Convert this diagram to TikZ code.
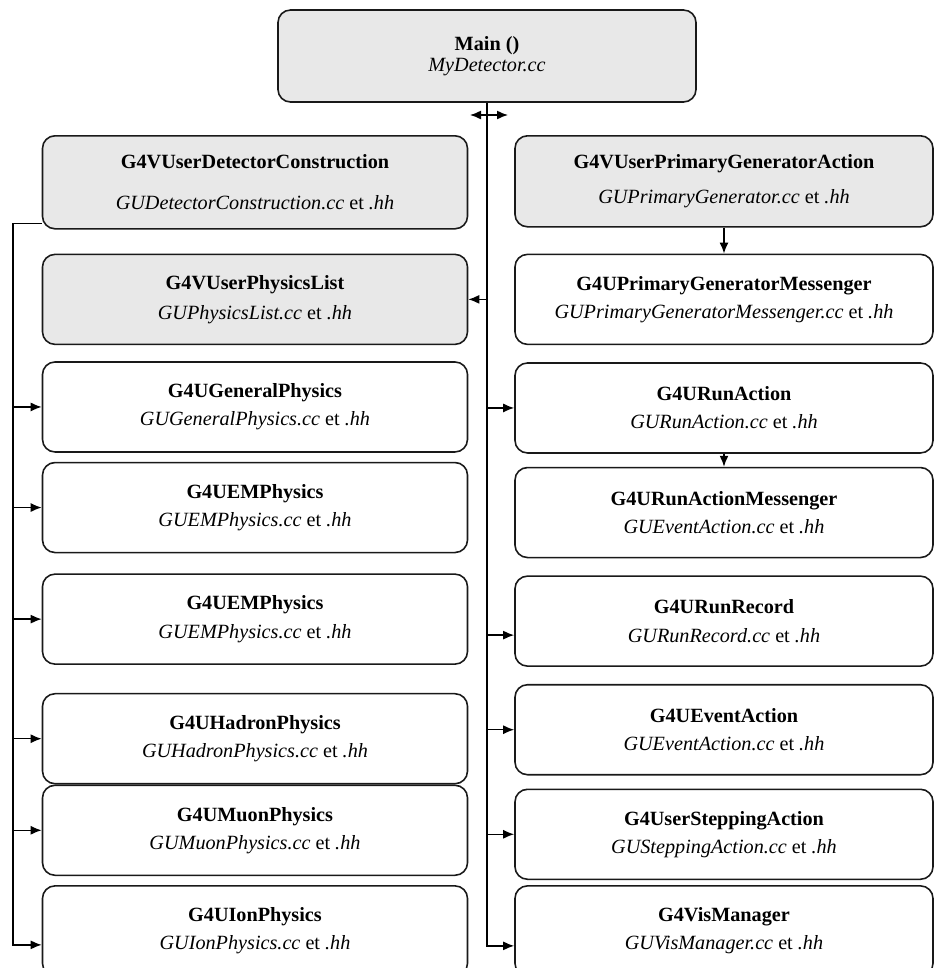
\documentclass[tikz,border=0pt]{standalone}
\usepackage{fontspec}
\setmainfont{Liberation Serif}
\usepackage{tikz}
\usetikzlibrary{positioning,arrows.meta}
\definecolor{boxgray}{RGB}{232,232,232}
\definecolor{boxrule}{RGB}{25,25,25}
\tikzset{
  classbox/.style={rectangle,rounded corners=0.25cm,draw=boxrule,line width=0.9pt,align=center,minimum width=8.5cm,minimum height=1.8cm,fill=white,font=\fontsize{11.5}{16}\selectfont},
  basebox/.style={classbox,fill=boxgray},
  rightbox/.style={classbox,minimum width=8.36cm},
  edge/.style={-{Latex[length=2.2mm,width=1.8mm]},line width=0.8pt},
  twoway/.style={{Latex[length=2.2mm,width=1.8mm]}-{Latex[length=2.2mm,width=1.8mm]},line width=0.8pt}
}

\begin{document}
\begin{tikzpicture}
  \useasboundingbox (0,0) rectangle (18.7,-19.36);
  \node[basebox,minimum width=8.36cm,minimum height=1.84cm] (main) at (9.74,-1.12) {\textbf{Main ()}\\[-4pt]\textit{MyDetector.cc}};

  % left column
  \node[basebox,minimum height=1.86cm,anchor=north] (det) at (5.1,-2.7) {\textbf{G4VUserDetectorConstruction}\\[7pt]\textit{GUDetectorConstruction.cc} et \textit{.hh}};
  \node[basebox,below=0.48cm of det] (physlist) {\textbf{G4VUserPhysicsList}\\[1pt]\textit{GUPhysicsList.cc} et \textit{.hh}};
  \node[classbox,below=0.32cm of physlist] (gen) {\textbf{G4UGeneralPhysics}\\\textit{GUGeneralPhysics.cc} et \textit{.hh}};
  \node[classbox,below=0.18cm of gen] (em1) {\textbf{G4UEMPhysics}\\\textit{GUEMPhysics.cc} et \textit{.hh}};
  \node[classbox,below=0.4cm of em1] (em2) {\textbf{G4UEMPhysics}\\\textit{GUEMPhysics.cc} et \textit{.hh}};
  \node[classbox,below=0.56cm of em2] (hadron) {\textbf{G4UHadronPhysics}\\\textit{GUHadronPhysics.cc} et \textit{.hh}};
  \node[classbox,below=0cm of hadron] (muon) {\textbf{G4UMuonPhysics}\\\textit{GUMuonPhysics.cc} et \textit{.hh}};
  \node[classbox,below=0.18cm of muon] (ion) {\textbf{G4UIonPhysics}\\\textit{GUIonPhysics.cc} et \textit{.hh}};

  % right column
  \node[basebox,minimum width=8.36cm,minimum height=1.82cm,anchor=north] (pga) at (14.48,-2.7) {\textbf{G4VUserPrimaryGeneratorAction}\\[3.5pt]\textit{GUPrimaryGenerator.cc} et \textit{.hh}};
  \node[rightbox,below=0.52cm of pga] (pgm) {\textbf{G4UPrimaryGeneratorMessenger}\\\textit{GUPrimaryGeneratorMessenger.cc} et \textit{.hh}};
  \node[rightbox,below=0.34cm of pgm] (runact) {\textbf{G4URunAction}\\\textit{GURunAction.cc} et \textit{.hh}};
  \node[rightbox,below=0.26cm of runact] (ramsg) {\textbf{G4URunActionMessenger}\\\textit{GUEventAction.cc} et \textit{.hh}};
  \node[rightbox,below=0.34cm of ramsg] (runrec) {\textbf{G4URunRecord}\\\textit{GURunRecord.cc} et \textit{.hh}};
  \node[rightbox,below=0.34cm of runrec] (evt) {\textbf{G4UEventAction}\\\textit{GUEventAction.cc} et \textit{.hh}};
  \node[rightbox,below=0.26cm of evt] (step) {\textbf{G4UserSteppingAction}\\\textit{GUSteppingAction.cc} et \textit{.hh}};
  \node[rightbox,below=0.1cm of step] (vis) {\textbf{G4VisManager}\\\textit{GUVisManager.cc} et \textit{.hh}};

  % trunk from main
  \coordinate (lsplit) at (9.4,-2.3);
  \coordinate (rsplit) at (10.16,-2.3);
  \coordinate (visin) at ([yshift=-0.3cm]vis.west);
  \coordinate (recin) at ([yshift=-0.28cm]runrec.west);
  \draw[twoway] (lsplit) -- (rsplit);
  \draw[edge] (main.south) |- (visin);
  \draw[edge] (main.south |- physlist.east) -- (physlist.east);
  \foreach \n in {runact,evt,step}
    \draw[edge] (main.south |- \n.west) -- (\n.west);
  \draw[edge] (main.south |- recin) -- (recin);
  \draw[edge] (pga) -- (pgm);
  \draw[edge] (runact) -- (ramsg);

  % left rail
  \coordinate (rail) at (0.26,-4.4);
  \coordinate (detout) at ([yshift=0.12cm]det.south west);
  \coordinate (ionin) at ([yshift=-0.28cm]ion.west);
  \draw[edge] (detout) -- (rail |- detout) |- (ionin);
  \foreach \n in {gen,em1,em2,hadron,muon}
    \draw[edge] (rail |- \n.west) -- (\n.west);
\end{tikzpicture}
\end{document}
